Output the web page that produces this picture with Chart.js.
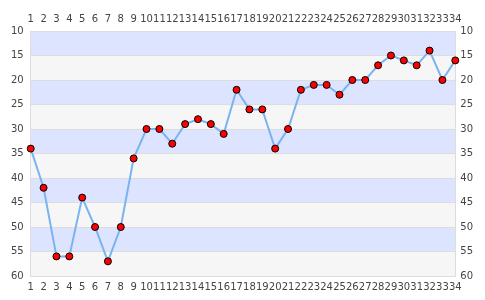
<!DOCTYPE html>
<html>
<head>
<meta charset="utf-8">
<script src="https://cdn.jsdelivr.net/npm/chart.js@4"></script>
<style>
  html, body { margin: 0; padding: 0; background: #fff; }
  #wrap { width: 485px; height: 300px; }
</style>
</head>
<body>
<div id="wrap"><canvas id="chart"></canvas></div>
<script>
// x categories
var labels = [];
for (var i = 1; i <= 34; i++) labels.push(String(i));

// values
var values = [34, 42, 56, 56, 44, 50, 57, 50, 36, 30,
              30, 33, 29, 28, 29, 31, 22, 26, 26, 34,
              30, 22, 21, 21, 23, 20, 20, 17, 15, 16,
              17, 14, 20, 16];

var yMin = 10, yMax = 60, yStep = 5;
var bandColors = ['#dde4ff', '#f6f6f6'];

// alternating bands behind the plot
var bandsPlugin = {
    id: 'bands',
    beforeDraw: function(chart) {
        var ctx = chart.ctx, area = chart.chartArea, y = chart.scales.y;
        ctx.save();
        var n = 0;
        for (var v = yMin; v < yMax; v += yStep) {
            var a = y.getPixelForValue(v), b = y.getPixelForValue(v + yStep);
            ctx.fillStyle = bandColors[n % 2];
            ctx.fillRect(area.left, Math.min(a, b), area.right - area.left, Math.abs(b - a));
            n++;
        }
        ctx.restore();
    }
};

var tickFont = { family: 'DejaVu Sans', size: 10 };
var tickColor = '#444';

var yAxis = function(pos, pad) {
    return {
        position: pos,
        reverse: true,
        min: yMin,
        max: yMax,
        ticks: { stepSize: yStep, font: tickFont, color: tickColor, padding: pad },
        grid: { color: '#dddddd', drawTicks: false },
        border: { color: '#dddddd' }
    };
};
var xAxis = function(pos, pad) {
    return {
        type: 'category',
        position: pos,
        labels: labels,
        offset: false,
        ticks: { autoSkip: false, maxRotation: 0, font: tickFont, color: tickColor, padding: pad },
        grid: { display: false, drawTicks: false },
        border: { color: '#dddddd' }
    };
};

new Chart(document.getElementById('chart'), {
    type: 'line',
    data: {
        labels: labels,
        datasets: [{
            data: values,
            xAxisID: 'x',
            yAxisID: 'y',
            borderColor: '#7ab4f0',
            borderWidth: 2,
            pointBackgroundColor: '#ff0000',
            pointBorderColor: '#000000',
            pointBorderWidth: 1,
            pointRadius: 3.5,
            tension: 0
        }]
    },
    options: {
        responsive: true,
        maintainAspectRatio: false,
        animation: false,
        layout: { padding: { left: 4, right: 7, top: 7, bottom: 2 } },
        plugins: { legend: { display: false }, tooltip: { enabled: false } },
        scales: {
            x: xAxis('bottom', 5),
            x2: xAxis('top', 6),
            y: yAxis('left', 7),
            y2: yAxis('right', 5)
        }
    },
    plugins: [bandsPlugin]
});
</script>
</body>
</html>
